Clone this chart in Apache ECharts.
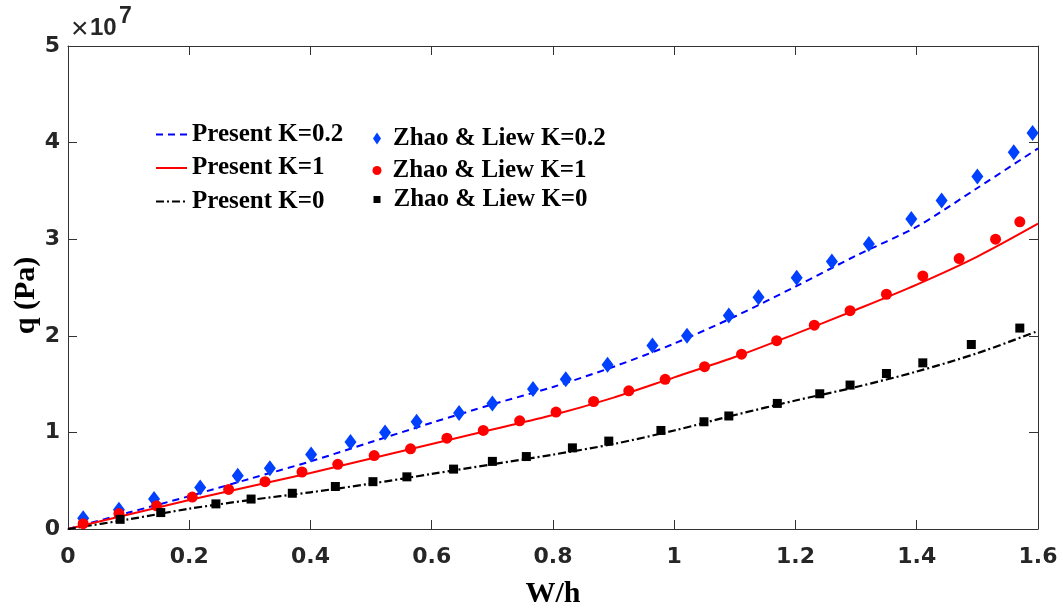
<!DOCTYPE html>
<html>
<head>
<meta charset="utf-8">
<title>q vs W/h</title>
<script src="https://cdn.jsdelivr.net/npm/echarts@6/dist/echarts.min.js"></script>
<style>
  html, body { margin: 0; padding: 0; background: #fff; }
  #chart { width: 1063px; height: 609px; }
</style>
</head>
<body>
<div id="chart"></div>
<script>
// Load q (in units of 1e7 Pa) against deflection ratio W/h.

// Present model curves, sampled every 0.1 in W/h
const curveX = [0, 0.1, 0.2, 0.3, 0.4, 0.5, 0.6, 0.7, 0.8, 0.9, 1.0, 1.1, 1.2, 1.3, 1.4, 1.5, 1.6];
const presentK02 = [0, 0.17, 0.34, 0.52, 0.70, 0.90, 1.10, 1.29, 1.47, 1.68, 1.92, 2.20, 2.51, 2.83, 3.13, 3.53, 3.94];
const presentK1  = [0, 0.15, 0.30, 0.44, 0.58, 0.73, 0.88, 1.03, 1.18, 1.36, 1.57, 1.78, 2.02, 2.27, 2.53, 2.82, 3.16];
const presentK0  = [0, 0.10, 0.21, 0.30, 0.38, 0.47, 0.57, 0.67, 0.77, 0.88, 1.02, 1.18, 1.33, 1.47, 1.63, 1.82, 2.05];

// Zhao & Liew reference points
const zhaoK02X = [0.025, 0.084, 0.142, 0.218, 0.280, 0.333, 0.401, 0.466, 0.523, 0.575, 0.645, 0.700, 0.767, 0.821, 0.890, 0.964, 1.021, 1.090, 1.139, 1.202, 1.260, 1.321, 1.391, 1.441, 1.500, 1.560, 1.591];
const zhaoK02Y = [0.11, 0.20, 0.31, 0.43, 0.55, 0.63, 0.77, 0.90, 1.00, 1.11, 1.20, 1.30, 1.45, 1.55, 1.70, 1.90, 2.00, 2.21, 2.40, 2.60, 2.77, 2.95, 3.21, 3.40, 3.65, 3.90, 4.10];

const zhaoK1X = [0.025, 0.084, 0.146, 0.205, 0.265, 0.325, 0.386, 0.445, 0.505, 0.565, 0.625, 0.685, 0.745, 0.805, 0.867, 0.925, 0.985, 1.050, 1.111, 1.169, 1.231, 1.290, 1.350, 1.410, 1.470, 1.530, 1.570];
const zhaoK1Y = [0.055, 0.16, 0.24, 0.33, 0.41, 0.49, 0.59, 0.67, 0.76, 0.83, 0.94, 1.02, 1.12, 1.21, 1.32, 1.43, 1.55, 1.68, 1.81, 1.95, 2.11, 2.26, 2.43, 2.62, 2.80, 3.00, 3.18];

const zhaoK0X = [0.086, 0.153, 0.244, 0.302, 0.370, 0.441, 0.503, 0.559, 0.636, 0.700, 0.756, 0.832, 0.892, 0.978, 1.049, 1.090, 1.170, 1.240, 1.290, 1.350, 1.410, 1.490, 1.570];
const zhaoK0Y = [0.10, 0.17, 0.26, 0.31, 0.37, 0.44, 0.49, 0.54, 0.62, 0.70, 0.75, 0.84, 0.91, 1.02, 1.11, 1.17, 1.30, 1.40, 1.49, 1.61, 1.72, 1.91, 2.08];

const xTicks = { min: 0, max: 1.6, interval: 0.2 };
const yTicks = { min: 0, max: 5, interval: 1 };

const zip = (xs, ys) => xs.map((x, i) => [x, ys[i]]);

const axisColor = '#333333';
const tickFont = { fontFamily: 'DejaVu Sans', fontWeight: 'bold', fontSize: 22, color: '#262626' };
const titleFont = { fontFamily: 'Liberation Serif', fontWeight: 'bold', fontSize: 30, color: '#000' };
const legendFont = { fontFamily: 'Liberation Serif', fontWeight: 'bold', fontSize: 25, color: '#000' };

function boxAxis(extra) {
  return Object.assign({
    type: 'value',
    axisLine: { show: true, onZero: false, lineStyle: { color: axisColor, width: 1 } },
    axisTick: { show: true, inside: true, length: 9, lineStyle: { color: axisColor, width: 1 } },
    splitLine: { show: false }
  }, extra);
}

const chart = echarts.init(document.getElementById('chart'), null, { renderer: 'canvas' });

chart.setOption({
  backgroundColor: '#ffffff',
  animation: false,
  grid: { left: 68, right: 25, top: 46, bottom: 80, containLabel: false, outerBoundsMode: 'none' },
  xAxis: [
    boxAxis(Object.assign({}, xTicks, {
      position: 'bottom',
      name: 'W/h', nameLocation: 'middle', nameGap: 50,
      nameTextStyle: titleFont,
      axisLabel: Object.assign({ margin: 17 }, tickFont)
    })),
    boxAxis(Object.assign({}, xTicks, { position: 'top', axisLabel: { show: false } }))
  ],
  yAxis: [
    boxAxis(Object.assign({}, yTicks, {
      position: 'left',
      name: 'q (Pa)', nameLocation: 'middle', nameGap: 27, nameMoveOverlap: false,
      nameTextStyle: Object.assign({ padding: [0, 16, 0, 0] }, titleFont),
      axisLabel: Object.assign({ margin: 8 }, tickFont)
    })),
    boxAxis(Object.assign({}, yTicks, { position: 'right', axisLabel: { show: false } }))
  ],
  legend: [
    {
      data: ['Present K=0.2', 'Present K=1', 'Present K=0'],
      orient: 'vertical', left: 155, top: 122, padding: 0,
      itemWidth: 31, itemHeight: 14, itemGap: 8.5,
      itemStyle: { opacity: 0 },
      textStyle: legendFont
    },
    {
      data: ['Zhao & Liew K=0.2'],
      orient: 'vertical', left: 373, top: 126, padding: 0,
      itemWidth: 8, itemHeight: 12,
      textStyle: Object.assign({ padding: [0, 0, 0, 7] }, legendFont)
    },
    {
      data: ['Zhao & Liew K=1'],
      orient: 'vertical', left: 372.5, top: 158, padding: 0,
      itemWidth: 9, itemHeight: 9,
      textStyle: Object.assign({ padding: [0, 0, 0, 6] }, legendFont)
    },
    {
      data: ['Zhao & Liew K=0'],
      orient: 'vertical', left: 373.5, top: 187, padding: 0,
      itemWidth: 7, itemHeight: 7,
      textStyle: Object.assign({ padding: [0, 0, 0, 8] }, legendFont)
    }
  ],
  graphic: [
    { type: 'text', left: 71, top: 15, style: { text: '×', font: '30px "Liberation Sans"', fill: '#262626' } },
    { type: 'text', left: 90, top: 16, style: { text: '10', font: 'bold 24px "Liberation Sans"', fill: '#262626' } },
    { type: 'text', left: 119, top: 5, style: { text: '7', font: 'bold 23px "Liberation Sans"', fill: '#262626' } }
  ],
  series: [
    {
      name: 'Present K=0.2', type: 'line', data: zip(curveX, presentK02),
      smooth: 0.3, symbol: 'none', z: 2,
      lineStyle: { color: '#0000ff', width: 2, type: [7, 5] }, itemStyle: { color: '#0000ff' }
    },
    {
      name: 'Present K=1', type: 'line', data: zip(curveX, presentK1),
      smooth: 0.3, symbol: 'none', z: 2,
      lineStyle: { color: '#ff0000', width: 2, type: 'solid' }, itemStyle: { color: '#ff0000' }
    },
    {
      name: 'Present K=0', type: 'line', data: zip(curveX, presentK0),
      smooth: 0.3, symbol: 'none', z: 2,
      lineStyle: { color: '#000000', width: 2.2, type: [8, 3, 2, 3] }, itemStyle: { color: '#000000' }
    },
    {
      name: 'Zhao & Liew K=0.2', type: 'scatter', data: zip(zhaoK02X, zhaoK02Y),
      symbol: 'diamond', symbolSize: [12, 16], z: 3,
      itemStyle: { color: '#0040ff', opacity: 1 }
    },
    {
      name: 'Zhao & Liew K=1', type: 'scatter', data: zip(zhaoK1X, zhaoK1Y),
      symbol: 'circle', symbolSize: 11, z: 3,
      itemStyle: { color: '#ff0000', opacity: 1 }
    },
    {
      name: 'Zhao & Liew K=0', type: 'scatter', data: zip(zhaoK0X, zhaoK0Y),
      symbol: 'rect', symbolSize: 9, z: 3,
      itemStyle: { color: '#000000', opacity: 1 }
    }
  ]
});
</script>
</body>
</html>
